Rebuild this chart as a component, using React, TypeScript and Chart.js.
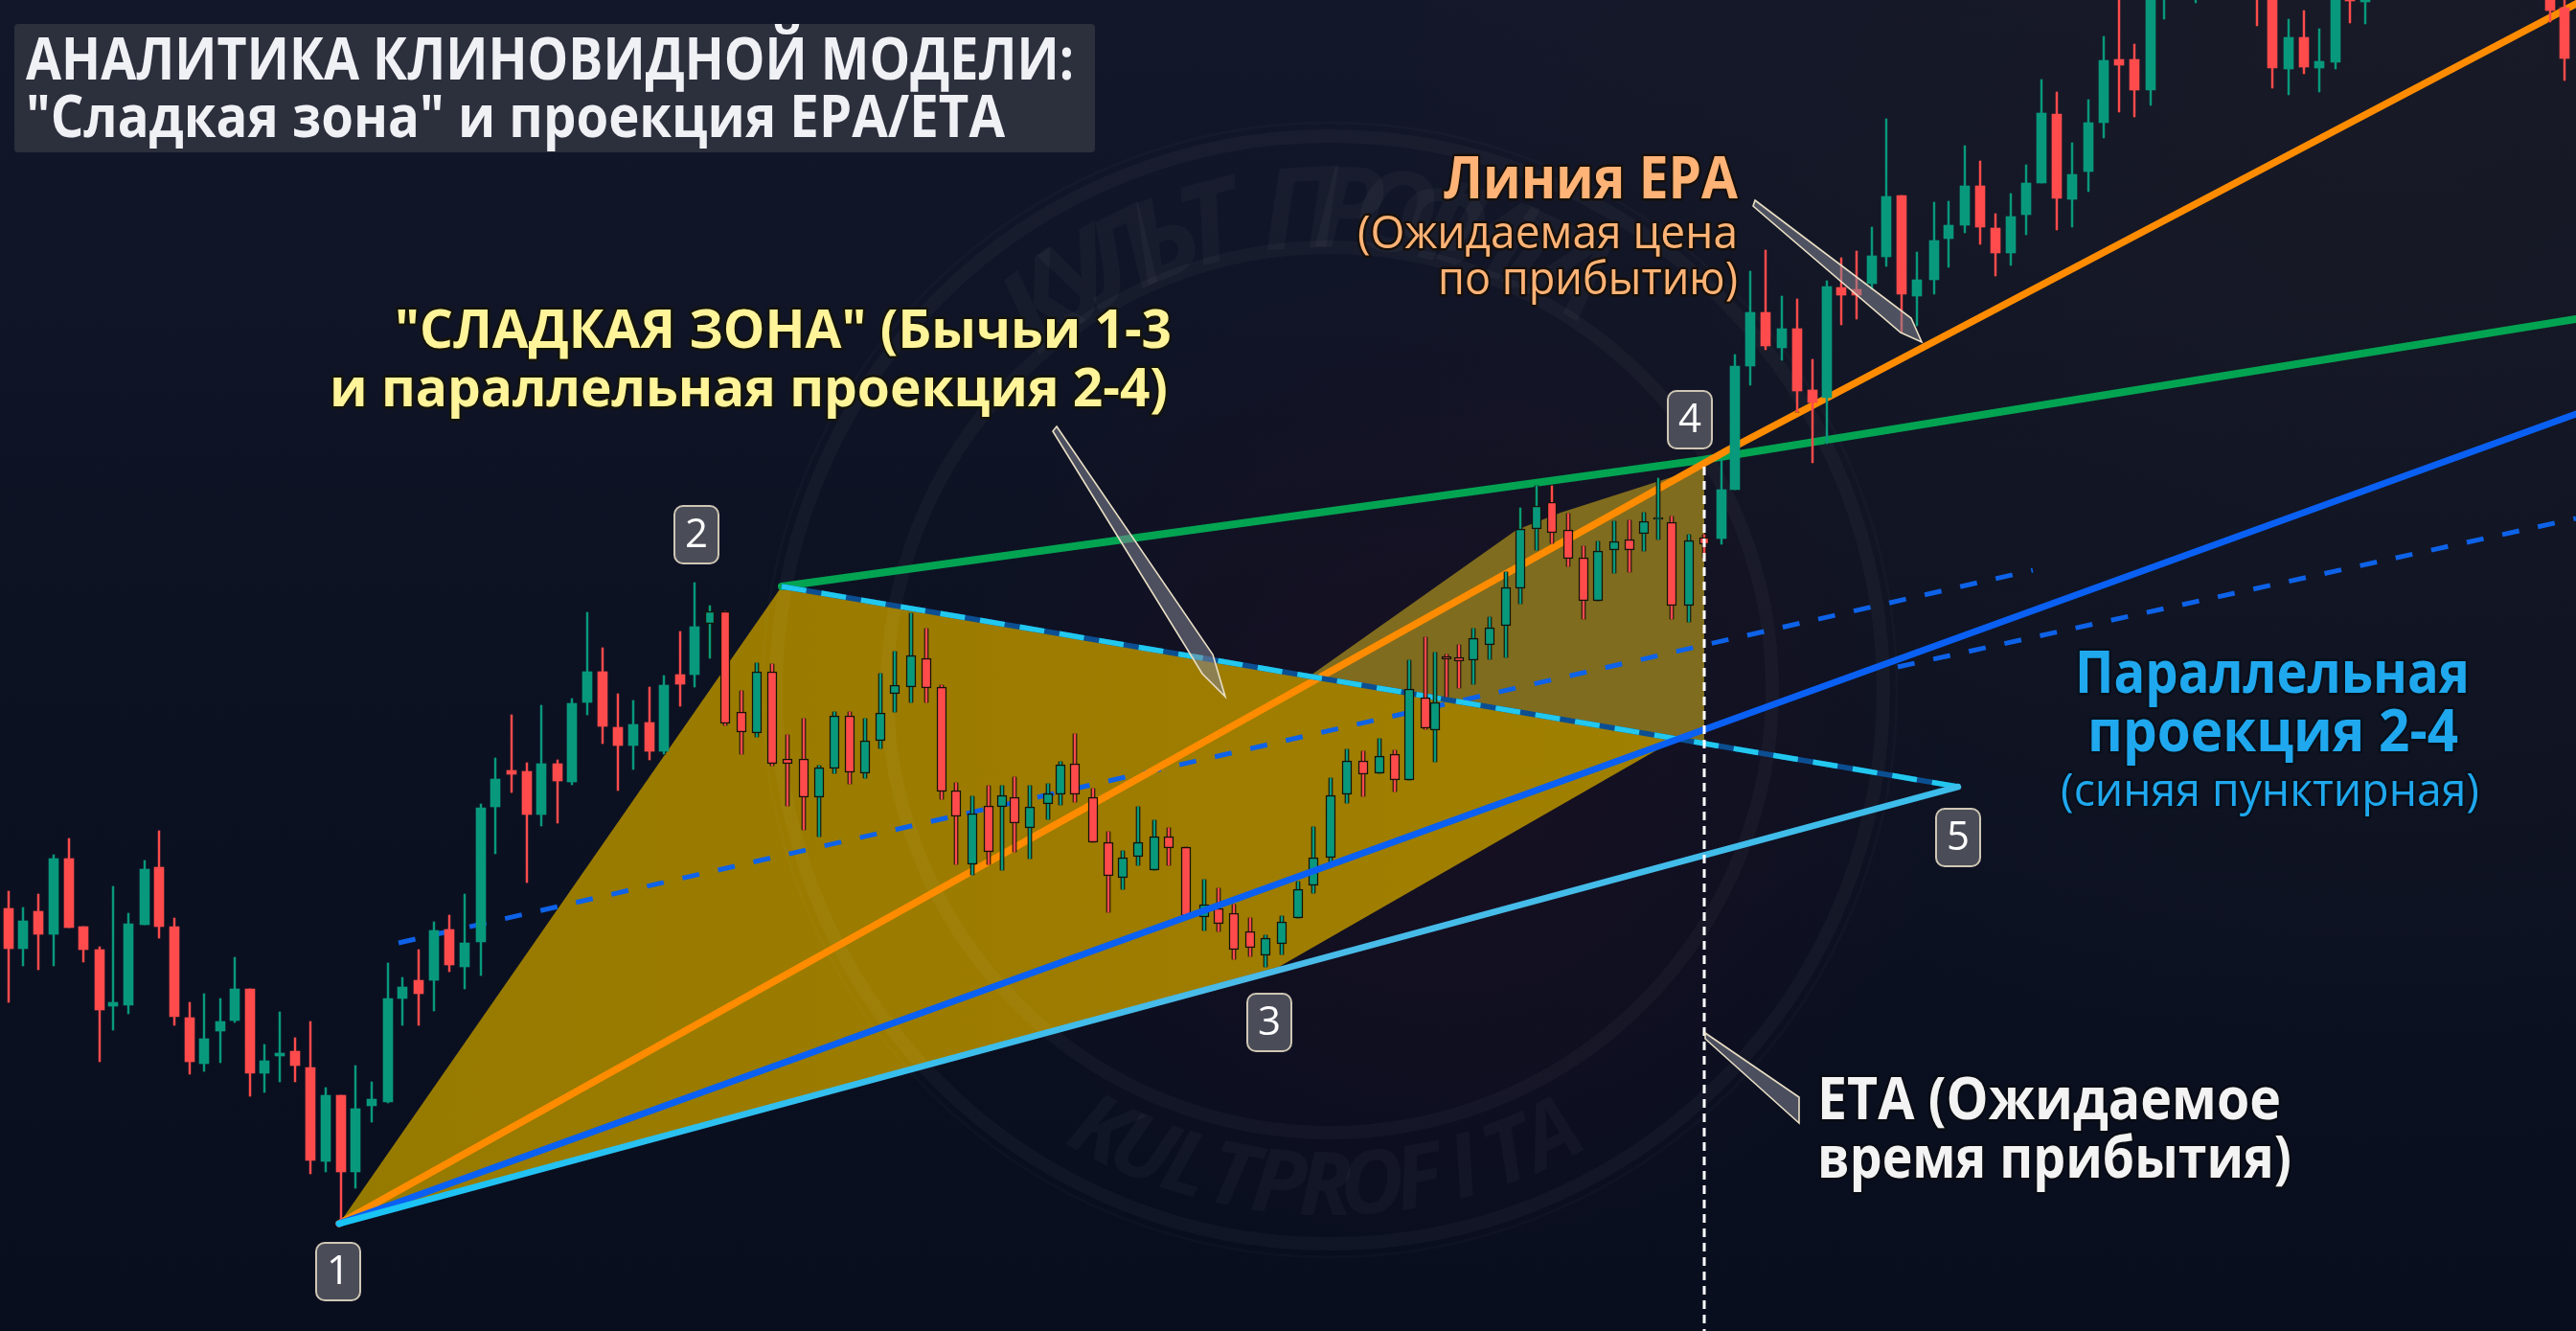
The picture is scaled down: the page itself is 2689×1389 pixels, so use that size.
import React, { useEffect, useRef } from "react";
import { Chart, registerables } from "chart.js";

Chart.register(...registerables);

const WIDTH = 2689;
const HEIGHT = 1389;

// Candles, in the picture's own units (time to the right, level counted downward).
const candleTime = [9,24,40,56,72,87,104,118,134,151,166,182,198,213,230,245,261,276,292,308,324,340,356,371,388,405,420,437,453,469,485,502,517,534,550,565,582,597,613,629,645,661,678,693,710,725,741,757,774,790,806,822,839,855,871,887,903,919,934,951,967,983,998,1015,1032,1046,1059,1075,1094,1107,1122,1141,1157,1172,1188,1205,1220,1238,1257,1272,1288,1305,1321,1338,1355,1371,1389,1406,1423,1440,1456,1471,1488,1498,1510,1523,1538,1555,1572,1587,1604,1620,1637,1653,1668,1685,1701,1716,1731,1745,1763,1779,1797,1811,1827,1843,1860,1876,1892,1907,1922,1938,1954,1969,1985,2001,2019,2034,2051,2067,2083,2099,2115,2131,2147,2163,2180,2196,2212,2228,2245,2259,2292,2356,2372,2389,2405,2421,2438,2453,2469,2662,2677];
const candleHigh = [930,947,933,892,875,967,988,925,953,898,867,958,1046,1037,1042,999,1032,1090,1056,1083,1066,1135,1143,1112,1129,1005,1020,991,962,955,933,839,791,746,796,736,793,729,639,676,724,731,717,705,659,608,632,638,721,692,693,767,750,799,743,743,750,703,680,640,656,715,817,831,820,820,811,820,818,795,766,823,868,888,842,856,864,884,918,927,944,958,976,956,920,863,812,782,784,771,783,689,665,681,683,673,656,644,597,530,507,507,536,570,565,544,543,535,499,539,558,558,480,370,283,261,309,312,375,293,269,262,237,124,204,263,211,210,152,168,223,202,172,83,96,149,104,38,-10,46,-20,-40,-30,-40,-20,20,11,30,-20,-10,-10,-20,-5];
const candleBodyTop = [948,961,951,896,896,967,991,1046,964,907,905,967,1062,1084,1066,1032,1032,1107,1099,1097,1114,1143,1143,1157,1147,1042,1030,1023,971,970,984,843,813,804,805,797,797,734,701,701,759,756,754,715,704,654,638,638,743,701,701,792,792,801,747,747,773,744,715,684,687,717,825,849,841,830,832,842,828,798,797,832,879,895,879,873,873,884,944,948,953,972,979,962,928,895,830,794,794,789,787,719,728,733,685,686,666,655,613,552,528,524,553,582,575,565,563,544,540,545,564,561,511,382,326,326,343,343,407,299,300,302,267,205,204,292,251,235,194,194,238,226,191,118,119,182,128,63,62,62,-20,-30,-20,-30,-20,39,39,64,-20,-8,-8,-20,8];
const candleBodyBottom = [990,990,975,975,968,991,1054,1050,1049,965,967,1061,1108,1110,1076,1065,1120,1120,1102,1112,1211,1212,1223,1223,1154,1150,1042,1037,1023,1007,1009,983,842,808,850,850,815,816,733,758,778,778,784,784,714,704,651,755,764,765,797,797,832,832,802,806,807,773,724,717,718,826,852,902,889,842,859,864,839,829,829,879,914,916,894,908,885,956,957,964,991,989,997,985,958,924,895,829,808,807,814,814,760,762,688,690,689,673,653,614,552,556,583,627,627,574,574,557,542,632,632,568,562,511,382,361,363,408,420,415,308,308,296,268,307,309,292,249,235,237,264,264,224,191,207,208,179,128,68,94,94,-5,-5,-5,71,72,70,71,65,1,2,11,61];
const candleLow = [1046,1008,1012,1008,968,1004,1108,1075,1058,965,979,1070,1121,1118,1109,1067,1144,1140,1129,1129,1225,1223,1274,1240,1171,1151,1070,1070,1055,1014,1032,1018,891,827,921,862,859,819,746,776,825,803,793,787,737,717,687,757,787,769,799,841,866,873,807,818,812,781,743,733,733,834,902,913,902,908,889,896,855,840,837,879,952,928,903,908,903,957,971,972,1001,998,1009,996,958,932,902,838,831,807,826,814,761,795,727,718,714,688,686,630,574,567,591,646,627,598,597,575,563,646,649,582,568,511,402,365,376,430,483,463,339,333,302,278,347,340,307,279,243,255,288,277,245,191,240,237,200,144,117,122,110,20,3,27,92,99,77,96,72,24,25,23,84];
const candleBull = [0,1,0,1,0,0,0,1,1,1,0,0,0,1,1,1,0,1,1,0,0,1,0,1,1,1,1,0,1,0,1,1,1,0,0,1,0,1,1,0,0,1,0,1,0,1,1,0,0,1,0,0,0,1,1,0,1,1,1,1,0,0,0,1,0,1,0,1,1,1,0,0,0,1,1,1,0,0,1,0,0,0,1,1,1,1,1,1,0,1,0,1,0,1,0,0,1,1,1,1,1,0,0,0,1,1,0,1,1,0,1,0,1,1,1,0,1,0,0,1,0,0,1,1,0,1,1,1,1,0,0,1,1,1,0,1,1,1,0,0,1,1,1,0,0,1,0,1,1,0,1,0,0];

// Structure points of the wedge.
const P1 = { x: 354, y: 1277 };
const P2 = { x: 816, y: 612 };
const P3 = { x: 1335, y: 1009 };
const P5 = { x: 2044, y: 821 };
const line24 = [P2, { x: 1777, y: 480 }, { x: 2689, y: 333 }];
const lineEpa = [P1, { x: 1803, y: 470 }, { x: 2689, y: 4 }];
const lineBlue = [P1, { x: 2689, y: 432 }];
const line13 = [P1, P5];
const line25 = [P2, P5];
const projectionA = [{ x: 416, y: 984 }, { x: 2122, y: 595 }];
const projectionB = [{ x: 1981, y: 696 }, { x: 2689, y: 541 }];
const etaLine = [{ x: 1779, y: 487 }, { x: 1779, y: 1389 }];
const zoneLower = [P1, P2, { x: 1750, y: 771 }, P3];
const zoneUpper = [{ x: 1365, y: 707 }, { x: 1583, y: 553 }, { x: 1629, y: 535 }, { x: 1779, y: 487 }, { x: 1779, y: 776 }];

const badges = [
  { t: "1", x: 353, y: 1327 },
  { t: "2", x: 727, y: 558 },
  { t: "3", x: 1325, y: 1067 },
  { t: "4", x: 1764, y: 438 },
  { t: "5", x: 2044, y: 874 },
];

const callouts = [
  [{ x: 1832, y: 209 }, { x: 1995, y: 332 }, { x: 2006, y: 357 }, { x: 1984, y: 347 }, { x: 1830, y: 215 }],
  [{ x: 1103, y: 445 }, { x: 1266, y: 683 }, { x: 1279, y: 727 }, { x: 1255, y: 703 }, { x: 1099, y: 450 }],
  [{ x: 1780, y: 1078 }, { x: 1878, y: 1145 }, { x: 1878, y: 1172 }, { x: 1780, y: 1084 }],
];

const FONT = '"Open Sans", "Noto Sans", sans-serif';
const texts = [
  { t: "АНАЛИТИКА КЛИНОВИДНОЙ МОДЕЛИ:", l: 27, r: 1121, b: 83, s: 60, w: 700, c: "#f0f1f5", o: null },
  { t: "\"Сладкая зона\" и проекция EPA/ETA", l: 27, r: 1049, b: 143, s: 60, w: 700, c: "#f0f1f5", o: null },
  { t: "\"СЛАДКАЯ ЗОНА\" (Бычьи 1-3", l: 412, r: 1223, b: 363, s: 56, w: 700, c: "#fff49a", o: "#14140a" },
  { t: "и параллельная проекция 2-4)", l: 344, r: 1219, b: 424, s: 56, w: 700, c: "#fff49a", o: "#14140a" },
  { t: "Линия EPA", l: 1507, r: 1814, b: 207, s: 60, w: 700, c: "#ffb376", o: "#17100a" },
  { t: "(Ожидаемая цена", l: 1417, r: 1814, b: 259, s: 48, w: 500, c: "#ffb376", o: "#17100a" },
  { t: "по прибытию)", l: 1501, r: 1814, b: 307, s: 48, w: 500, c: "#ffb376", o: "#17100a" },
  { t: "Параллельная", l: 2166, r: 2578, b: 723, s: 60, w: 700, c: "#1fa8ee", o: "#08101c" },
  { t: "проекция 2-4", l: 2179, r: 2566, b: 784, s: 60, w: 700, c: "#1fa8ee", o: "#08101c" },
  { t: "(синяя пунктирная)", l: 2151, r: 2588, b: 841, s: 48, w: 500, c: "#1fa8ee", o: "#08101c" },
  { t: "ETA (Ожидаемое", l: 1897, r: 2381, b: 1168, s: 60, w: 700, c: "#f3f3f3", o: "#0a0c14" },
  { t: "время прибытия)", l: 1897, r: 2392, b: 1229, s: 60, w: 700, c: "#f3f3f3", o: "#0a0c14" },
];

const GREEN = "#08997c";
const RED = "#ff4b4b";
const OUTLINE = "#15130a";
const isOutlined = (i: number) => candleTime[i] >= 741 && candleTime[i] <= 1785;

function polygon(ctx: CanvasRenderingContext2D, chart: any, pts: { x: number; y: number }[]) {
  const sx = chart.scales.x;
  const sy = chart.scales.y;
  ctx.beginPath();
  pts.forEach((p, i) => {
    const px = sx.getPixelForValue(p.x);
    const py = sy.getPixelForValue(p.y);
    if (i === 0) ctx.moveTo(px, py);
    else ctx.lineTo(px, py);
  });
  ctx.closePath();
}

function arcText(ctx: CanvasRenderingContext2D, text: string, cx: number, cy: number, r: number, startDeg: number, stepDeg: number, bottom: boolean) {
  [...text].forEach((ch, i) => {
    const a = ((startDeg + i * stepDeg) * Math.PI) / 180;
    ctx.save();
    ctx.translate(cx + r * Math.cos(a), cy + r * Math.sin(a));
    ctx.rotate(bottom ? a - Math.PI / 2 : a + Math.PI / 2);
    ctx.fillText(ch, 0, 0);
    ctx.restore();
  });
}

const backdrop = {
  id: "backdrop",
  beforeDatasetsDraw(chart: any) {
    const { ctx } = chart;
    ctx.save();
    const bg = ctx.createLinearGradient(0, 0, 0, HEIGHT);
    bg.addColorStop(0, "#13172a");
    bg.addColorStop(0.45, "#0d1223");
    bg.addColorStop(1, "#090e1f");
    ctx.fillStyle = bg;
    ctx.fillRect(0, 0, WIDTH, HEIGHT);
    const tr = ctx.createRadialGradient(2500, 100, 50, 2500, 100, 1100);
    tr.addColorStop(0, "rgba(28,28,36,0.55)");
    tr.addColorStop(1, "rgba(28,28,36,0)");
    ctx.fillStyle = tr;
    ctx.fillRect(0, 0, WIDTH, HEIGHT);
    const cx = 1388;
    const cy = 720;
    const red = ctx.createRadialGradient(cx + 120, cy + 80, 100, cx + 120, cy + 80, 520);
    red.addColorStop(0, "rgba(70,12,34,0.16)");
    red.addColorStop(1, "rgba(70,12,34,0)");
    ctx.fillStyle = red;
    ctx.fillRect(0, 0, WIDTH, HEIGHT);

    polygon(ctx, chart, zoneUpper);
    ctx.fillStyle = "rgb(128,108,30)";
    ctx.fill();
    polygon(ctx, chart, zoneLower);
    const gold = ctx.createLinearGradient(354, 0, 1779, 0);
    gold.addColorStop(0, "rgb(150,122,0)");
    gold.addColorStop(0.6, "rgb(158,124,0)");
    gold.addColorStop(1, "rgb(160,128,0)");
    ctx.fillStyle = gold;
    ctx.fill();

    ctx.lineWidth = 14;
    ctx.strokeStyle = "rgba(255,255,255,0.03)";
    [578, 462].forEach((r) => {
      ctx.beginPath();
      ctx.arc(cx, cy, r, 0, Math.PI * 2);
      ctx.stroke();
    });
    ctx.lineWidth = 3;
    ctx.strokeStyle = "rgba(255,255,255,0.018)";
    ctx.beginPath();
    ctx.arc(cx, cy, 592, 0, Math.PI * 2);
    ctx.stroke();

    ctx.fillStyle = "rgba(255,255,255,0.032)";
    ctx.textAlign = "center";
    ctx.textBaseline = "alphabetic";
    ctx.font = `italic 700 92px ${FONT}`;
    arcText(ctx, "KULTPROFITA", cx, cy, 548, 117.5, -5.4, true);
    ctx.font = `italic 700 118px ${FONT}`;
    arcText(ctx, "КУЛЬТ ПРОФИТА", cx, cy, 462, 233, 5.6, false);
    ctx.restore();
  },
};

const annotations = {
  id: "annotations",
  afterDatasetsDraw(chart: any) {
    const { ctx } = chart;
    const sx = chart.scales.x;
    const sy = chart.scales.y;
    ctx.save();

    ctx.fillStyle = "rgb(44,47,60)";
    ctx.beginPath();
    ctx.roundRect(15, 25, 1128, 134, 4);
    ctx.fill();

    callouts.forEach((pts) => {
      polygon(ctx, chart, pts);
      ctx.fillStyle = "rgba(128,132,146,0.55)";
      ctx.fill();
      ctx.strokeStyle = "#e9dec4";
      ctx.lineWidth = 1.6;
      ctx.lineJoin = "miter";
      ctx.stroke();
    });

    ctx.textBaseline = "alphabetic";
    ctx.textAlign = "left";
    texts.forEach((t) => {
      ctx.font = `${t.w} ${t.s}px ${FONT}`;
      const scale = (t.r - t.l) / ctx.measureText(t.t).width;
      ctx.save();
      ctx.translate(t.l, t.b);
      ctx.scale(scale, 1);
      if (t.o) {
        ctx.strokeStyle = t.o;
        ctx.lineWidth = 5;
        ctx.lineJoin = "round";
        ctx.strokeText(t.t, 0, 0);
      }
      ctx.fillStyle = t.c;
      ctx.fillText(t.t, 0, 0);
      ctx.restore();
    });

    badges.forEach((b) => {
      const x = sx.getPixelForValue(b.x);
      const y = sy.getPixelForValue(b.y);
      ctx.beginPath();
      ctx.roundRect(x - 23, y - 30, 46, 60, 9);
      ctx.fillStyle = "#4a4d58";
      ctx.fill();
      ctx.strokeStyle = "#cfc6b4";
      ctx.lineWidth = 2;
      ctx.stroke();
      ctx.fillStyle = "#ffffff";
      ctx.font = `500 42px ${FONT}`;
      ctx.textAlign = "center";
      ctx.textBaseline = "middle";
      ctx.fillText(b.t, x, y + 1);
      ctx.textBaseline = "alphabetic";
      ctx.textAlign = "left";
    });
    ctx.restore();
  },
};

export default function App() {
  const ref = useRef<HTMLCanvasElement | null>(null);
  useEffect(() => {
    document.body.style.margin = "0";
    document.body.style.overflow = "hidden";
    const canvas = ref.current!;
    const ctx = canvas.getContext("2d")!;
    const cyanGrad = ctx.createLinearGradient(354, 1277, 2044, 821);
    cyanGrad.addColorStop(0, "#18c4f5");
    cyanGrad.addColorStop(0.55, "#4bbbe8");
    cyanGrad.addColorStop(1, "#3cbdea");

    const bars = (ys: (i: number) => number[]) => candleTime.map((x, i) => ({ x, y: ys(i) }));
    const colors = candleBull.map((g) => (g ? GREEN : RED));
    const lineDs = (label: string, data: any[], color: any, width: number, order: number, extra: any = {}) => ({
      type: "line" as const,
      label,
      data,
      borderColor: color,
      borderWidth: width,
      pointRadius: 0,
      tension: 0,
      fill: false,
      order,
      borderCapStyle: "round" as const,
      ...extra,
    });

    const chart = new Chart(canvas, {
      type: "bar",
      data: {
        datasets: [
          lineDs("Линия EPA", lineEpa, "#ff8c00", 7.5, 14),
          lineDs("Линия 2-4", line24, "#02a452", 8, 15),
          lineDs("Проекция 2-4 (a)", projectionA, "#0d62e8", 5, 16, { borderDash: [18, 20], borderCapStyle: "butt" }),
          lineDs("Проекция 2-4 (b)", projectionB, "#0d62e8", 5, 16, { borderDash: [18, 20], borderCapStyle: "butt" }),
          lineDs("Линия 2-5 основа", line25, "#0b4f92", 5.5, 13, { borderCapStyle: "butt" }),
          lineDs("Линия 2-5", line25, "#22c8ee", 5.5, 12, { borderDash: [26, 16], borderCapStyle: "butt" }),
          {
            type: "bar" as const,
            label: "Контур теней",
            data: bars((i) => (isOutlined(i) ? [candleHigh[i], candleLow[i]] : [candleLow[i], candleLow[i]])),
            backgroundColor: OUTLINE,
            barThickness: 4,
            grouped: false,
            order: 11,
          },
          {
            type: "bar" as const,
            label: "Тени",
            data: bars((i) => [candleHigh[i], candleLow[i]]),
            backgroundColor: colors,
            barThickness: 1.8,
            grouped: false,
            order: 10,
          },
          {
            type: "bar" as const,
            label: "Тела",
            data: bars((i) => [candleBodyTop[i], candleBodyBottom[i]]),
            backgroundColor: colors,
            borderColor: candleBull.map((_, i) => (isOutlined(i) ? OUTLINE : colors[i])),
            borderWidth: candleBull.map((_, i) => (isOutlined(i) ? 1.5 : 0)),
            borderSkipped: false,
            barThickness: 10,
            grouped: false,
            order: 9,
          },
          lineDs("Синяя линия", lineBlue, "#0a60f2", 7, 4),
          lineDs("Линия 1-3", line13, cyanGrad, 6.5, 3),
          lineDs("ETA", etaLine, "#ffffff", 3, 2, { borderDash: [9, 6], borderCapStyle: "butt" }),
        ] as any,
      },
      options: {
        responsive: false,
        animation: false,
        events: [],
        layout: { padding: 0 },
        plugins: { legend: { display: false }, tooltip: { enabled: false }, title: { display: false } },
        scales: {
          x: { type: "linear", min: 0, max: WIDTH, display: false, offset: false, grid: { display: false } },
          y: { type: "linear", min: 0, max: HEIGHT, reverse: true, display: false, grid: { display: false } },
        },
      },
      plugins: [backdrop, annotations],
    } as any);
    return () => chart.destroy();
  }, []);
  return (
    <div style={{ position: "absolute", left: 0, top: 0, width: WIDTH, height: HEIGHT }}>
      <canvas ref={ref} width={WIDTH} height={HEIGHT} style={{ display: "block", width: WIDTH, height: HEIGHT }} />
    </div>
  );
}
